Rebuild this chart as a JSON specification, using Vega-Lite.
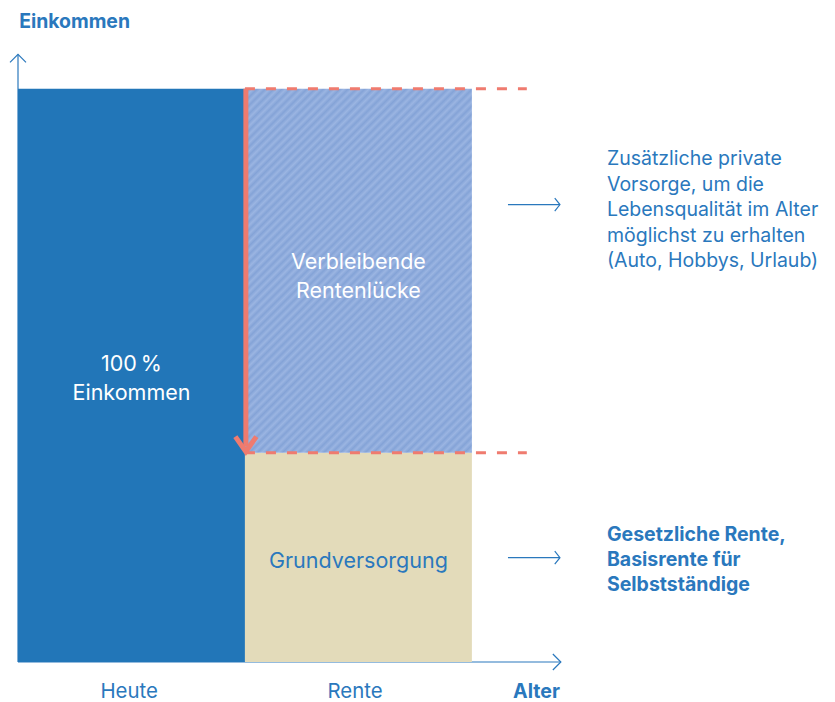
{
  "$schema": "https://vega.github.io/schema/vega-lite/v6.json",
  "width": 817,
  "height": 662,
  "padding": {"left": 18, "top": 0, "right": 0, "bottom": 40},
  "autosize": {"type": "none"},
  "config": {"view": {"stroke": null}, "text": {"font": "Inter", "lineBreak": "\n"}},
  "datasets": {
    "bars": [
      {"segment": "Heute", "x0": 0, "x1": 1, "y0": 0, "y1": 100},
      {"segment": "Grundversorgung", "x0": 1, "x1": 2, "y0": 0, "y1": 36.5}
    ],
    "gap": [
      {"segment": "Verbleibende Rentenlücke", "x0": 1, "x1": 2, "y0": 36.5, "y1": 100}
    ],
    "axes": [
      {"x0": 0, "x1": 0, "y0": 0, "y1": 106},
      {"x0": 0, "x1": 2.392, "y0": 0, "y1": 0},
      {"x0": 2.159, "x1": 2.388, "y0": 79.8, "y1": 79.8},
      {"x0": 2.159, "x1": 2.388, "y0": 18.2, "y1": 18.2}
    ],
    "dashes": [
      {"x0": 1, "x1": 2.242, "y0": 100, "y1": 100},
      {"x0": 1, "x1": 2.242, "y0": 36.5, "y1": 36.5}
    ],
    "redline": [{"x0": 1.004, "x1": 1.004, "y0": 100, "y1": 37.6}],
    "redtip": [{"x": 1.004, "y": 36.7}],
    "uptip": [{"x": 0, "y": 106}],
    "righttip": [{"x": 2.392, "y": 0}],
    "smalltips": [{"x": 2.388, "y": 79.8}, {"x": 2.388, "y": 18.2}],
    "whiteLabels": [
      {"label": "100\u2009%\nEinkommen", "x": 0.5, "y": 51.8},
      {"label": "Verbleibende\nRentenlücke", "x": 1.5, "y": 69.7}
    ],
    "grund": [{"label": "Grundversorgung", "x": 1.5, "y": 17.5}],
    "axisLabels": [
      {"label": "Heute", "x": 0.49, "y": -5.25},
      {"label": "Rente", "x": 1.485, "y": -5.25}
    ],
    "boldLeft": [{"label": "Einkommen", "x": 0.005, "y": 111.6}],
    "boldRight": [{"label": "Alter", "x": 2.388, "y": -5.25}],
    "noteNormal": [{"label": "Zusätzliche private\nVorsorge, um die\nLebensqualität im Alter\nmöglichst zu erhalten\n(Auto, Hobbys, Urlaub)", "x": 2.595, "y": 87.7}],
    "noteBold": [{"label": "Gesetzliche Rente,\nBasisrente für\nSelbstständige", "x": 2.595, "y": 22.1}]
  },
  "encoding": {
    "x": {"field": "x", "type": "quantitative", "scale": {"domain": [0, 3.6], "nice": false, "zero": false}, "axis": null},
    "y": {"field": "y", "type": "quantitative", "scale": {"domain": [0, 115.5], "nice": false, "zero": false}, "axis": null}
  },
  "layer": [
    {
      "data": {"name": "axes"},
      "mark": {"type": "rule", "color": "#2a78bd", "strokeWidth": 1.2},
      "encoding": {
        "x": {"field": "x0", "type": "quantitative"},
        "x2": {"field": "x1"},
        "y": {"field": "y0", "type": "quantitative"},
        "y2": {"field": "y1"}
      }
    },
    {
      "data": {"name": "bars"},
      "mark": {"type": "rect"},
      "encoding": {
        "x": {"field": "x0", "type": "quantitative"},
        "x2": {"field": "x1"},
        "y": {"field": "y0", "type": "quantitative"},
        "y2": {"field": "y1"},
        "color": {"field": "segment", "type": "nominal", "legend": null,
          "scale": {"domain": ["Heute", "Grundversorgung"], "range": ["#2276b8", "#e3dbba"]}}
      }
    },
    {
      "data": {"name": "gap"},
      "mark": {"type": "rect", "fill": {"gradient": "linear", "x1": 0, "y1": 0, "x2": 0.729, "y2": 1.169, "stops": [
        {"offset": 0, "color": "#9bb5e2"}, {"offset": 0.007, "color": "#84a3d7"}, {"offset": 0.014, "color": "#9bb5e2"}, {"offset": 0.021, "color": "#84a3d7"},
        {"offset": 0.028, "color": "#9bb5e2"}, {"offset": 0.035, "color": "#84a3d7"}, {"offset": 0.042, "color": "#9bb5e2"}, {"offset": 0.049, "color": "#84a3d7"},
        {"offset": 0.056, "color": "#9bb5e2"}, {"offset": 0.063, "color": "#84a3d7"}, {"offset": 0.07, "color": "#9bb5e2"}, {"offset": 0.077, "color": "#84a3d7"},
        {"offset": 0.084, "color": "#9bb5e2"}, {"offset": 0.091, "color": "#84a3d7"}, {"offset": 0.098, "color": "#9bb5e2"}, {"offset": 0.105, "color": "#84a3d7"},
        {"offset": 0.112, "color": "#9bb5e2"}, {"offset": 0.119, "color": "#84a3d7"}, {"offset": 0.126, "color": "#9bb5e2"}, {"offset": 0.133, "color": "#84a3d7"},
        {"offset": 0.14, "color": "#9bb5e2"}, {"offset": 0.147, "color": "#84a3d7"}, {"offset": 0.154, "color": "#9bb5e2"}, {"offset": 0.161, "color": "#84a3d7"},
        {"offset": 0.168, "color": "#9bb5e2"}, {"offset": 0.175, "color": "#84a3d7"}, {"offset": 0.182, "color": "#9bb5e2"}, {"offset": 0.189, "color": "#84a3d7"},
        {"offset": 0.196, "color": "#9bb5e2"}, {"offset": 0.203, "color": "#84a3d7"}, {"offset": 0.21, "color": "#9bb5e2"}, {"offset": 0.217, "color": "#84a3d7"},
        {"offset": 0.224, "color": "#9bb5e2"}, {"offset": 0.231, "color": "#84a3d7"}, {"offset": 0.238, "color": "#9bb5e2"}, {"offset": 0.245, "color": "#84a3d7"},
        {"offset": 0.252, "color": "#9bb5e2"}, {"offset": 0.259, "color": "#84a3d7"}, {"offset": 0.266, "color": "#9bb5e2"}, {"offset": 0.273, "color": "#84a3d7"},
        {"offset": 0.28, "color": "#9bb5e2"}, {"offset": 0.287, "color": "#84a3d7"}, {"offset": 0.294, "color": "#9bb5e2"}, {"offset": 0.301, "color": "#84a3d7"},
        {"offset": 0.308, "color": "#9bb5e2"}, {"offset": 0.315, "color": "#84a3d7"}, {"offset": 0.322, "color": "#9bb5e2"}, {"offset": 0.329, "color": "#84a3d7"},
        {"offset": 0.336, "color": "#9bb5e2"}, {"offset": 0.343, "color": "#84a3d7"}, {"offset": 0.35, "color": "#9bb5e2"}, {"offset": 0.357, "color": "#84a3d7"},
        {"offset": 0.364, "color": "#9bb5e2"}, {"offset": 0.371, "color": "#84a3d7"}, {"offset": 0.378, "color": "#9bb5e2"}, {"offset": 0.385, "color": "#84a3d7"},
        {"offset": 0.392, "color": "#9bb5e2"}, {"offset": 0.399, "color": "#84a3d7"}, {"offset": 0.406, "color": "#9bb5e2"}, {"offset": 0.413, "color": "#84a3d7"},
        {"offset": 0.42, "color": "#9bb5e2"}, {"offset": 0.427, "color": "#84a3d7"}, {"offset": 0.434, "color": "#9bb5e2"}, {"offset": 0.441, "color": "#84a3d7"},
        {"offset": 0.448, "color": "#9bb5e2"}, {"offset": 0.455, "color": "#84a3d7"}, {"offset": 0.462, "color": "#9bb5e2"}, {"offset": 0.469, "color": "#84a3d7"},
        {"offset": 0.476, "color": "#9bb5e2"}, {"offset": 0.483, "color": "#84a3d7"}, {"offset": 0.49, "color": "#9bb5e2"}, {"offset": 0.497, "color": "#84a3d7"},
        {"offset": 0.504, "color": "#9bb5e2"}, {"offset": 0.511, "color": "#84a3d7"}, {"offset": 0.518, "color": "#9bb5e2"}, {"offset": 0.525, "color": "#84a3d7"},
        {"offset": 0.532, "color": "#9bb5e2"}, {"offset": 0.539, "color": "#84a3d7"}, {"offset": 0.546, "color": "#9bb5e2"}, {"offset": 0.553, "color": "#84a3d7"},
        {"offset": 0.56, "color": "#9bb5e2"}, {"offset": 0.567, "color": "#84a3d7"}, {"offset": 0.574, "color": "#9bb5e2"}, {"offset": 0.581, "color": "#84a3d7"},
        {"offset": 0.588, "color": "#9bb5e2"}, {"offset": 0.595, "color": "#84a3d7"}, {"offset": 0.602, "color": "#9bb5e2"}, {"offset": 0.609, "color": "#84a3d7"},
        {"offset": 0.616, "color": "#9bb5e2"}, {"offset": 0.623, "color": "#84a3d7"}, {"offset": 0.63, "color": "#9bb5e2"}, {"offset": 0.637, "color": "#84a3d7"},
        {"offset": 0.644, "color": "#9bb5e2"}, {"offset": 0.651, "color": "#84a3d7"}, {"offset": 0.658, "color": "#9bb5e2"}, {"offset": 0.665, "color": "#84a3d7"},
        {"offset": 0.672, "color": "#9bb5e2"}, {"offset": 0.679, "color": "#84a3d7"}, {"offset": 0.686, "color": "#9bb5e2"}, {"offset": 0.693, "color": "#84a3d7"},
        {"offset": 0.7, "color": "#9bb5e2"}, {"offset": 0.707, "color": "#84a3d7"}, {"offset": 0.714, "color": "#9bb5e2"}, {"offset": 0.721, "color": "#84a3d7"},
        {"offset": 0.728, "color": "#9bb5e2"}, {"offset": 0.735, "color": "#84a3d7"}, {"offset": 0.742, "color": "#9bb5e2"}, {"offset": 0.749, "color": "#84a3d7"},
        {"offset": 0.756, "color": "#9bb5e2"}, {"offset": 0.763, "color": "#84a3d7"}, {"offset": 0.77, "color": "#9bb5e2"}, {"offset": 0.777, "color": "#84a3d7"},
        {"offset": 0.784, "color": "#9bb5e2"}, {"offset": 0.791, "color": "#84a3d7"}, {"offset": 0.798, "color": "#9bb5e2"}, {"offset": 0.805, "color": "#84a3d7"},
        {"offset": 0.812, "color": "#9bb5e2"}, {"offset": 0.819, "color": "#84a3d7"}, {"offset": 0.826, "color": "#9bb5e2"}, {"offset": 0.833, "color": "#84a3d7"},
        {"offset": 0.84, "color": "#9bb5e2"}, {"offset": 0.847, "color": "#84a3d7"}, {"offset": 0.854, "color": "#9bb5e2"}, {"offset": 0.861, "color": "#84a3d7"},
        {"offset": 0.868, "color": "#9bb5e2"}, {"offset": 0.875, "color": "#84a3d7"}, {"offset": 0.882, "color": "#9bb5e2"}, {"offset": 0.889, "color": "#84a3d7"},
        {"offset": 0.896, "color": "#9bb5e2"}, {"offset": 0.903, "color": "#84a3d7"}, {"offset": 0.91, "color": "#9bb5e2"}, {"offset": 0.917, "color": "#84a3d7"},
        {"offset": 0.924, "color": "#9bb5e2"}, {"offset": 0.931, "color": "#84a3d7"}, {"offset": 0.938, "color": "#9bb5e2"}, {"offset": 0.945, "color": "#84a3d7"},
        {"offset": 0.952, "color": "#9bb5e2"}, {"offset": 0.959, "color": "#84a3d7"}, {"offset": 0.966, "color": "#9bb5e2"}, {"offset": 0.973, "color": "#84a3d7"},
        {"offset": 0.98, "color": "#9bb5e2"}, {"offset": 0.987, "color": "#84a3d7"}, {"offset": 0.994, "color": "#9bb5e2"}, {"offset": 1, "color": "#84a3d7"}
      ]}},
      "encoding": {
        "x": {"field": "x0", "type": "quantitative"},
        "x2": {"field": "x1"},
        "y": {"field": "y0", "type": "quantitative"},
        "y2": {"field": "y1"}
      }
    },
    {
      "data": {"name": "dashes"},
      "mark": {"type": "rule", "color": "#ef7b6f", "strokeWidth": 3, "strokeDash": [10, 11]},
      "encoding": {
        "x": {"field": "x0", "type": "quantitative"},
        "x2": {"field": "x1"},
        "y": {"field": "y0", "type": "quantitative"},
        "y2": {"field": "y1"}
      }
    },
    {
      "data": {"name": "redline"},
      "mark": {"type": "rule", "color": "#ef7b6f", "strokeWidth": 5},
      "encoding": {
        "x": {"field": "x0", "type": "quantitative"},
        "x2": {"field": "x1"},
        "y": {"field": "y0", "type": "quantitative"},
        "y2": {"field": "y1"}
      }
    },
    {
      "data": {"name": "redtip"},
      "mark": {"type": "point", "shape": "M-0.7,-1L0,0L0.7,-1", "size": 900, "filled": false, "stroke": "#ef7b6f", "strokeWidth": 5, "opacity": 1, "strokeJoin": "miter"}
    },
    {
      "data": {"name": "uptip"},
      "mark": {"type": "point", "shape": "M-1,1L0,0L1,1", "size": 256, "filled": false, "stroke": "#2a78bd", "strokeWidth": 1.2, "opacity": 1}
    },
    {
      "data": {"name": "righttip"},
      "mark": {"type": "point", "shape": "M-1,-1L0,0L-1,1", "size": 256, "filled": false, "stroke": "#2a78bd", "strokeWidth": 1.2, "opacity": 1}
    },
    {
      "data": {"name": "smalltips"},
      "mark": {"type": "point", "shape": "M-0.8,-1L0,0L-0.8,1", "size": 169, "filled": false, "stroke": "#2a78bd", "strokeWidth": 1.2, "opacity": 1}
    },
    {
      "data": {"name": "whiteLabels"},
      "mark": {"type": "text", "color": "#ffffff", "fontSize": 21.5, "align": "center", "baseline": "middle", "lineHeight": 29},
      "encoding": {"text": {"field": "label"}}
    },
    {
      "data": {"name": "grund"},
      "mark": {"type": "text", "color": "#2a78bd", "fontSize": 21.5, "align": "center", "baseline": "middle"},
      "encoding": {"text": {"field": "label"}}
    },
    {
      "data": {"name": "axisLabels"},
      "mark": {"type": "text", "color": "#2a78bd", "fontSize": 20.4, "align": "center", "baseline": "middle"},
      "encoding": {"text": {"field": "label"}}
    },
    {
      "data": {"name": "boldLeft"},
      "mark": {"type": "text", "color": "#2a78bd", "fontSize": 19.4, "fontWeight": "bold", "align": "left", "baseline": "middle"},
      "encoding": {"text": {"field": "label"}}
    },
    {
      "data": {"name": "boldRight"},
      "mark": {"type": "text", "color": "#2a78bd", "fontSize": 19.6, "fontWeight": "bold", "align": "right", "baseline": "middle"},
      "encoding": {"text": {"field": "label"}}
    },
    {
      "data": {"name": "noteNormal"},
      "mark": {"type": "text", "color": "#2a78bd", "fontSize": 19.5, "align": "left", "baseline": "middle", "lineHeight": 25.5},
      "encoding": {"text": {"field": "label"}}
    },
    {
      "data": {"name": "noteBold"},
      "mark": {"type": "text", "color": "#2a78bd", "fontSize": 19.5, "fontWeight": "bold", "align": "left", "baseline": "middle", "lineHeight": 25},
      "encoding": {"text": {"field": "label"}}
    }
  ]
}
